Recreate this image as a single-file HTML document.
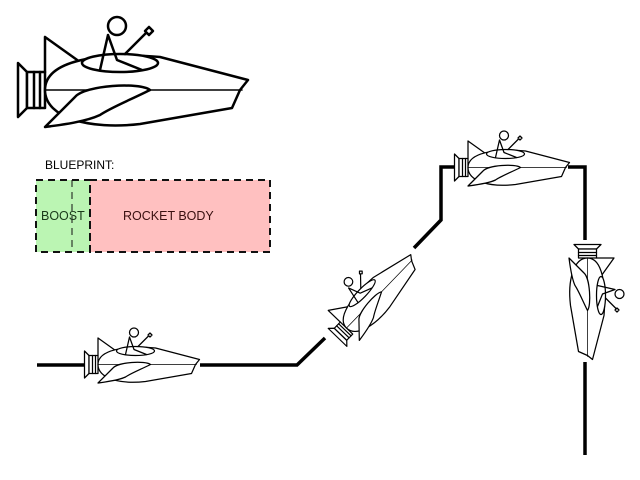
<!DOCTYPE html>
<html><head><style>
html,body{margin:0;padding:0;background:#fff;}
svg{display:block;}
</style></head><body>
<svg width="640" height="480" viewBox="0 0 640 480" xmlns="http://www.w3.org/2000/svg">
<defs>
<g id="r" fill="none" stroke="#000" stroke-width="2.5" stroke-linejoin="round" stroke-linecap="round">
  <path d="M18,63 L27,72 L27,108 L18,117 Z" fill="#fff"/>
  <rect x="27" y="72" width="18" height="36" fill="#fff"/>
  <line x1="34" y1="72" x2="34" y2="108"/>
  <line x1="40" y1="72" x2="40" y2="108"/>
  <path d="M45,37 L45,72 M45,37 L80,62"/>
  <path d="M45,90 C45,60 100,52 160,57 L248,80 L240,90 L232,108 L140,124 C90,130 45,118 45,90 Z" fill="#fff"/>
  <ellipse cx="120" cy="63" rx="38" ry="9" fill="#fff"/>
  <line x1="45" y1="90" x2="242" y2="90" stroke-width="1.5"/>
  <path d="M45,127 L75,97 C85,85 140,82 150,90 C130,100 110,108 100,115 C85,122 60,125 45,127 Z" fill="#fff"/>
  <circle cx="117" cy="26" r="9" fill="#fff"/>
  <path d="M108,35 L100,70 M108,35 L117,60 L142,70 M125,54 L146,33"/>
  <path d="M149,27 L153,31 L149,35 L145,31 Z" fill="#fff"/>
</g>
</defs>
<use href="#r"/>
<use href="#r" transform="translate(142,356) scale(0.5) translate(-133,-73)"/>
<use href="#r" transform="translate(512,159) scale(0.5) translate(-133,-73)"/>
<use href="#r" transform="translate(370,292) rotate(-46) scale(0.48) translate(-133,-73)"/>
<use href="#r" transform="translate(596,302) rotate(90) scale(0.5) translate(-133,-73)"/>
<g stroke="#000" stroke-width="3.5" fill="none">
  <path d="M37,365 L85,365"/>
  <path d="M200,365 L297,365 L325,338"/>
  <path d="M414,248 L441,220 L441,167 L455,167"/>
  <path d="M568,167 L585,167 L585,240"/>
  <path d="M585,362 L585,455"/>
</g>
<text x="45" y="169" font-family="Liberation Sans, sans-serif" font-size="12">BLUEPRINT:</text>
<rect x="36" y="180" width="54" height="72" fill="#bbf5b3"/>
<rect x="90" y="180" width="180" height="72" fill="#ffc0c0"/>
<g fill="none" stroke="#111" stroke-width="2" stroke-dasharray="7,5">
  <rect x="36" y="180" width="54" height="72"/>
  <rect x="90" y="180" width="180" height="72"/>
  <line x1="72" y1="180" x2="72" y2="252" stroke-width="1"/>
</g>
<text x="41" y="220" font-family="Liberation Sans, sans-serif" font-size="12.5" fill="#1a3a1a">BOOST</text>
<text x="123" y="220" font-family="Liberation Sans, sans-serif" font-size="12.5" fill="#3a1010">ROCKET BODY</text>
</svg>
</body></html>
